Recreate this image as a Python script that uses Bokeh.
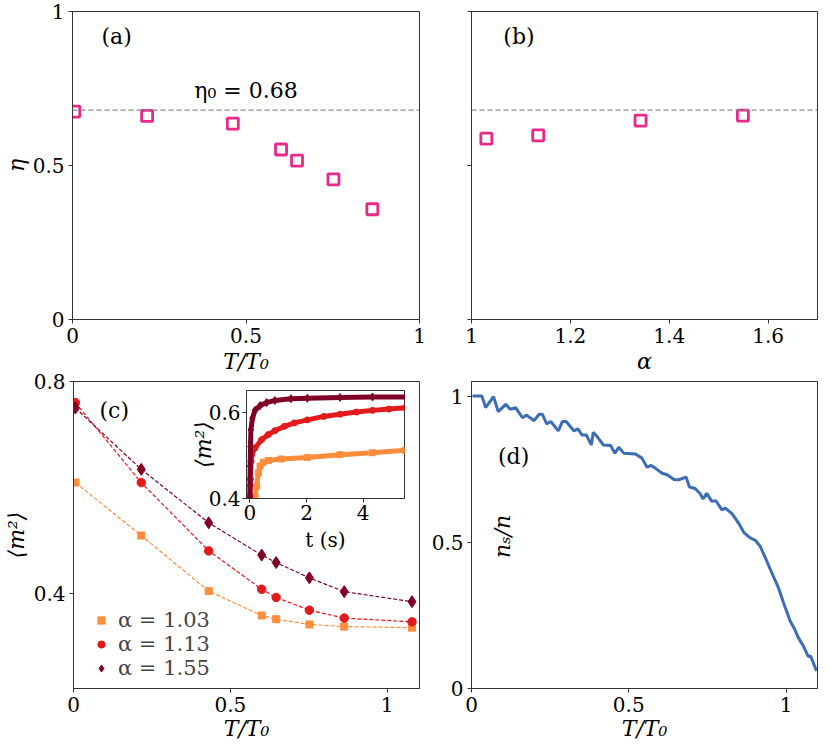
import numpy as np
from bokeh.plotting import figure
from bokeh.models import (Range1d, FixedTicker, Span, Label, Legend, LegendItem, GridBox)
from bokeh.embed import file_html
from bokeh.resources import INLINE

# ---------------- data ----------------
# panel (a): eta vs T/T0
A_T = [0.005, 0.215, 0.462, 0.601, 0.647, 0.752, 0.864]
A_ETA = [0.675, 0.661, 0.636, 0.552, 0.516, 0.455, 0.358]
ETA0 = 0.68
ETA0_TEXT = "η₀ = 0.68"

# panel (b): eta vs alpha
B_ALPHA = [1.03, 1.135, 1.342, 1.549]
B_ETA = [0.587, 0.598, 0.646, 0.662]

# panel (c): <m^2> vs T/T0
C_T = [0.006, 0.216, 0.431, 0.600, 0.646, 0.752, 0.863, 1.079]
C_M2_103 = [0.609, 0.509, 0.404, 0.358, 0.351, 0.341, 0.337, 0.335]
C_M2_113 = [0.760, 0.609, 0.480, 0.4075, 0.392, 0.368, 0.353, 0.346]
C_M2_155 = [0.750, 0.634, 0.533, 0.472, 0.458, 0.429, 0.403, 0.384]
C_LABELS = ["α = 1.03", "α = 1.13", "α = 1.55"]

# inset of (c): <m^2> vs t (s)
IN_T_103 = [0.18, 0.24, 0.30, 0.36, 0.47, 0.65, 1.11, 2.03, 3.18, 4.33, 5.49]
IN_M_103 = [0.405, 0.428, 0.459, 0.475, 0.484, 0.488, 0.4915, 0.495, 0.5015, 0.506, 0.5115]
IN_T_113 = [0.0, 0.02, 0.04, 0.07, 0.18, 0.41, 0.65, 0.88, 1.22, 1.57, 2.03, 2.61, 3.18, 3.76, 4.33, 4.91, 5.49]
IN_M_113 = [0.405, 0.445, 0.486, 0.502, 0.517, 0.536, 0.548, 0.557, 0.567, 0.575, 0.582, 0.590, 0.595, 0.600, 0.604, 0.607, 0.610]
IN_T_155 = [0.0, 0.005, 0.01, 0.02, 0.035, 0.09, 0.18, 0.36, 0.59, 0.88, 1.45, 2.03, 3.18, 4.33, 5.49]
IN_M_155 = [0.40, 0.43, 0.475, 0.52, 0.559, 0.586, 0.604, 0.615, 0.622, 0.627, 0.631, 0.632, 0.634, 0.635, 0.635]

# panel (d): n_s/n vs T/T0
D_T = [0.003, 0.033, 0.045, 0.070, 0.085, 0.109, 0.123, 0.141, 0.162, 0.175,
       0.199, 0.215, 0.225, 0.239, 0.252, 0.276, 0.289, 0.301, 0.326, 0.338,
       0.352, 0.365, 0.381, 0.387, 0.400, 0.419, 0.442, 0.456, 0.468, 0.484,
       0.521, 0.542, 0.558, 0.571, 0.585, 0.606, 0.622, 0.645, 0.659, 0.682,
       0.693, 0.711, 0.727, 0.736, 0.748, 0.764, 0.777, 0.796, 0.807, 0.828,
       0.849, 0.867, 0.886, 0.902, 0.918, 0.933, 0.955, 0.976, 0.992, 1.013,
       1.025, 1.039, 1.055, 1.071, 1.078, 1.097]
D_NS = [1.000, 1.000, 0.961, 0.998, 0.947, 0.972, 0.955, 0.960, 0.926, 0.935,
        0.916, 0.938, 0.938, 0.905, 0.913, 0.881, 0.913, 0.913, 0.881, 0.888,
        0.867, 0.867, 0.833, 0.876, 0.861, 0.833, 0.831, 0.805, 0.825, 0.805,
        0.802, 0.788, 0.757, 0.763, 0.753, 0.736, 0.731, 0.714, 0.714, 0.723,
        0.689, 0.684, 0.666, 0.648, 0.668, 0.640, 0.642, 0.611, 0.617, 0.598,
        0.566, 0.532, 0.515, 0.507, 0.486, 0.450, 0.395, 0.344, 0.293, 0.231,
        0.208, 0.174, 0.145, 0.109, 0.111, 0.060]

# ticks
T_TICKS = [0, 0.5, 1]
T_TICK_LABELS = ["0", "0.5", "1"]
ETA_TICKS = [0, 0.5, 1]
ETA_TICK_LABELS = ["0", "0.5", "1"]
ALPHA_TICKS = [1, 1.2, 1.4, 1.6]
ALPHA_TICK_LABELS = ["1", "1.2", "1.4", "1.6"]
M2_TICKS = [0.4, 0.8]
M2_TICK_LABELS = ["0.4", "0.8"]
NS_TICKS = [0, 0.5, 1]
NS_TICK_LABELS = ["0", "0.5", "1"]
IN_T_TICKS = [0, 2, 4]
IN_T_TICK_LABELS = ["0", "2", "4"]
IN_M_TICKS = [0.4, 0.6]
IN_M_TICK_LABELS = ["0.4", "0.6"]

# ---------------- style ----------------
FONT = "DejaVu Serif"
TICK_FS = "20px"
LABEL_FS = "22px"
PINK = "#e7298a"
ORANGE = "#fd8d3c"
RED = "#e31a1c"
DARKRED = "#800026"
BLUE = "#3b6eb5"
AXC = "#333333"


def set_ticks(axis, ticks, labels):
    axis.ticker = FixedTicker(ticks=ticks, minor_ticks=[])
    axis.major_label_overrides = {float(t): l for t, l in zip(ticks, labels)}


def make_fig(width, height, xr, yr, bl, br, bt, bb, x_standoff=0, y_standoff=0):
    p = figure(width=width, height=height, x_range=Range1d(*xr), y_range=Range1d(*yr),
               output_backend="svg", toolbar_location=None, frame_align=False,
               min_border_left=bl, min_border_right=br, min_border_top=bt, min_border_bottom=bb)
    p.grid.visible = False
    p.outline_line_color = AXC
    p.outline_line_width = 1
    p.background_fill_color = "white"
    p.border_fill_color = "white"
    for ax in p.axis:
        ax.axis_line_color = AXC
        ax.major_tick_line_color = AXC
        ax.major_tick_out = 4
        ax.major_tick_in = 0
        ax.minor_tick_line_color = None
        ax.major_label_text_font = FONT
        ax.major_label_text_font_size = TICK_FS
        ax.major_label_text_color = "black"
        ax.major_label_standoff = 4
        ax.axis_label_text_font = FONT
        ax.axis_label_text_font_size = LABEL_FS
        ax.axis_label_text_color = "black"
        ax.axis_label_text_font_style = "italic"
    p.xaxis.axis_label_standoff = x_standoff
    p.yaxis.axis_label_standoff = y_standoff
    return p


def text_label(p, x, y, text, style="normal", size=LABEL_FS, angle=0.0):
    p.add_layout(Label(x=x, y=y, text=text, text_font=FONT, text_font_size=size,
                       text_font_style=style, angle=angle,
                       text_align="center", text_baseline="middle", text_color="black"))


# ---------------- panel (a) ----------------
pa = make_fig(428, 376, (0, 1), (0, 1), 72, 9, 11, 57, x_standoff=3, y_standoff=1)
set_ticks(pa.xaxis[0], T_TICKS, T_TICK_LABELS)
set_ticks(pa.yaxis[0], ETA_TICKS, ETA_TICK_LABELS)
pa.xaxis.axis_label = "T/T₀"
pa.yaxis.axis_label = "η"
pa.add_layout(Span(location=ETA0, dimension="width", line_color="#888888",
                   line_dash="5 3", line_width=1.3))
pa.scatter(A_T, A_ETA, marker="square", size=11, fill_color=None,
           line_color=PINK, line_width=2.8)
text_label(pa, 0.5, 0.745, ETA0_TEXT)
text_label(pa, 0.127, 0.92, "(a)")

# ---------------- panel (b) ----------------
pb = make_fig(401, 376, (1, 1.7), (0, 1), 43, 12, 11, 57, x_standoff=3)
set_ticks(pb.xaxis[0], ALPHA_TICKS, ALPHA_TICK_LABELS)
set_ticks(pb.yaxis[0], ETA_TICKS, ["", "", ""])
pb.xaxis.axis_label = "α"
pb.add_layout(Span(location=ETA0, dimension="width", line_color="#888888",
                   line_dash="5 3", line_width=1.3))
pb.scatter(B_ALPHA, B_ETA, marker="square", size=11, fill_color=None,
           line_color=PINK, line_width=2.8)
text_label(pb, 1.096, 0.92, "(b)")

# ---------------- panel (c) ----------------
pc = make_fig(424, 373, (0, 1.103), (0.22, 0.8), 72, 5, 11, 54, x_standoff=1, y_standoff=2)
pc.border_fill_alpha = 0
set_ticks(pc.xaxis[0], T_TICKS, T_TICK_LABELS)
set_ticks(pc.yaxis[0], M2_TICKS, M2_TICK_LABELS)
pc.xaxis.axis_label = "T/T₀"
pc.yaxis.axis_label = "⟨m²⟩"
for ys, col in [(C_M2_103, ORANGE), (C_M2_113, RED), (C_M2_155, DARKRED)]:
    pc.line(C_T, ys, line_color=col, line_dash="4 2", line_width=1.2)
r103 = pc.scatter(C_T, C_M2_103, marker="square", size=7, color=ORANGE)
r113 = pc.scatter(C_T, C_M2_113, marker="circle", size=8.5, color=RED)
r155 = pc.scatter(C_T, C_M2_155, marker="diamond", size=12, color=DARKRED)
legend = Legend(items=[LegendItem(label=C_LABELS[0], renderers=[r103]),
                       LegendItem(label=C_LABELS[1], renderers=[r113]),
                       LegendItem(label=C_LABELS[2], renderers=[r155])],
                location=(18, 8), label_text_font=FONT, label_text_font_size="21px",
                glyph_width=20, glyph_height=18, label_height=18, spacing=0,
                padding=0, margin=0, label_standoff=7,
                border_line_alpha=0, background_fill_alpha=0)
pc.add_layout(legend)
text_label(pc, 0.13, 0.745, "(c)")

# ---------------- panel (d) ----------------
pd_ = make_fig(405, 373, (0, 1.1), (0, 1.05), 47, 12, 11, 54, x_standoff=1)
pd_.border_fill_alpha = 0
set_ticks(pd_.xaxis[0], T_TICKS, T_TICK_LABELS)
set_ticks(pd_.yaxis[0], NS_TICKS, NS_TICK_LABELS)
pd_.xaxis.axis_label = "T/T₀"
pd_.line(D_T, D_NS, line_color=BLUE, line_width=3)
text_label(pd_, 0.099, 0.52, "nₛ/n", style="italic", angle=np.pi / 2)
text_label(pd_, 0.134, 0.795, "(d)")

# ---------------- inset ----------------
pin = make_fig(222, 177, (-0.12, 5.46), (0.4, 0.65), 55, 5, 5, 64, x_standoff=5, y_standoff=-10)
set_ticks(pin.xaxis[0], IN_T_TICKS, IN_T_TICK_LABELS)
set_ticks(pin.yaxis[0], IN_M_TICKS, IN_M_TICK_LABELS)
pin.xaxis.major_label_standoff = 2
pin.yaxis.major_label_standoff = 2
pin.xaxis.axis_label = "t (s)"
pin.xaxis.axis_label_text_font_style = "normal"
pin.xaxis.axis_label_text_font_size = TICK_FS
pin.yaxis.axis_label = "⟨m²⟩"
pin.border_fill_alpha = 0
for ts, ms, col, mk, sz in [(IN_T_103, IN_M_103, ORANGE, "square", 6),
                            (IN_T_113, IN_M_113, RED, "circle", 6),
                            (IN_T_155, IN_M_155, DARKRED, "diamond", 8)]:
    pin.line(ts, ms, line_color=col, line_width=5)
    pin.scatter(ts, ms, marker=mk, size=sz, color=col)

grid = GridBox(children=[(pa, 0, 0, 2, 4), (pb, 0, 4, 2, 1),
                         (pc, 1, 0, 4, 3), (pd_, 1, 3, 4, 2),
                         (pin, 3, 1, 1, 1)],
               rows=["370px", "6px", "9px", "177px", "181px"],
               cols=["187px", "222px", "15px", "4px", "401px"])

open("out.html", "w").write(file_html(grid, INLINE))
